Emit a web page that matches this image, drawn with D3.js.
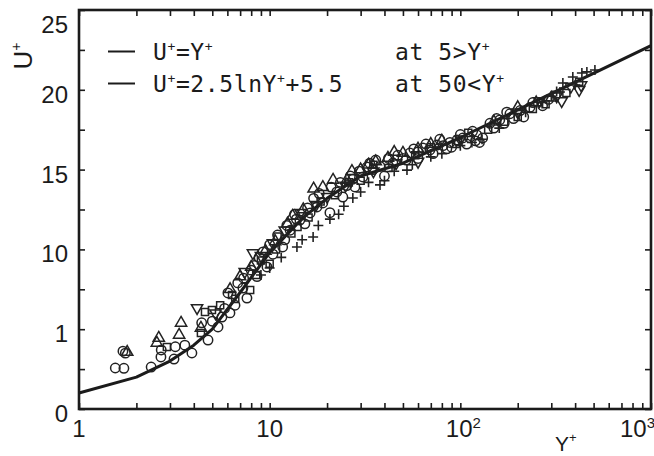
<!DOCTYPE html>
<html>
<head>
<meta charset="utf-8">
<script src="https://cdn.jsdelivr.net/npm/d3@7"></script>
<style>
  html, body { margin: 0; padding: 0; background: #fff; }
  svg { display: block; }
</style>
</head>
<body>
<svg id="chart" width="654" height="456"></svg>
<script>
// ---------------- data ----------------
const xTickValues = [1, 10, 100, 1000];
const xTickBase = ["1", "10", "10", "10"];
const xTickExp = ["", "", "2", "3"];
const yTickValues = [0, 5, 10, 15, 20, 25];
const yTickLabels = ["0", "1", "10", "15", "20", "25"];

// wall-law curve (U+ = Y+ for small Y+, log law for large Y+)
const lawY = [1, 2, 3, 4, 5, 7, 10, 15, 20, 30, 50, 100, 1000];
const lawU = [1, 2, 3, 4, 5, 7.3, 9.8, 12.0, 13.2, 14.6, 15.4, 17.01, 22.77];

const legendFormulas = ["U⁺=Y⁺", "U⁺=2.5lnY⁺+5.5"];
const legendConditions = ["at 5>Y⁺", "at 50<Y⁺"];

// measured points [Y+, U+]
const circlePts = [
  [1.55,2.57],[1.72,2.55],[1.75,3.5],[1.7,3.62],[2.39,2.63],[3.15,3.13],[3.91,3.51],[4.75,4.32],[2.69,3.26],[3.59,4.0],
  [5.62,5.76],[6.19,6.02],[5.36,5.14],[6.04,7.27],[6.58,6.5],[7.6,6.95],[7.24,7.58],[8.58,8.3],
  [9.22,9.84],[9.68,8.9],[11.7,10.15],[12.0,10.6],[10.4,9.7],[12.8,11.2],[14.4,11.84],[16.3,12.28],
  [17.7,12.66],[15.3,11.6],[19.0,12.91],[22.5,13.6],[24.2,13.28],[25.4,14.0],[28.0,13.91],[30.8,14.54],
  [32.4,15.16],[34.8,15.0],[37.9,15.2],[44.3,15.41],[50.0,15.7],[54.4,16.04],[59.9,16.1],[63.7,16.35],
  [69.3,16.23],[75.4,16.54],[81.1,16.5],[88.2,16.7],[96.0,16.85],[103,16.98],[112,17.0],[122,17.17],
  [131,16.98],[143,17.9],[161,18.11],[182,18.5],[206,18.7],[232,18.9],[40,14.6],[20.7,12.3],
  [27.3,14.4],[60,15.7],[90,16.4],[120,16.8],[3.2,3.9],[2.7,3.7],[4.4,5.4],[8.0,8.7],[13.5,12.2],
  [5.0,5.5],[5.8,6.3],[6.8,7.9],[7.3,8.2],[8.3,9.0],[8.8,9.5],[10.0,10.3],[11.0,10.9],[12.3,11.5],
  [13.8,11.9],[15.8,12.6],[17.0,13.2],[18.2,13.5],[21.0,13.9],[23.5,14.2],[26.5,14.6],[29.5,14.9],
  [33.5,15.4],[36,15.6],[42,15.7],[47,15.9],[52,15.6],[57,16.3],[66,16.6],[72,16.0],[78,16.9],
  [85,16.3],[100,17.2],[108,16.6],[116,17.4],[126,16.7],[150,17.6],[170,17.9],[190,18.2],[215,18.3],
  [240,19.2],[270,19.0],[290,19.4],[175,18.6],[155,18.2]
];
const triUpPts = [
  [1.79,3.57],[2.56,4.14],[2.62,4.45],[3.43,5.39],[3.35,4.64],[4.36,5.08],[6.2,7.5],[8.0,8.9],
  [10.7,10.5],[12.4,11.6],[15.0,12.5],[17.0,13.8],[21.5,14.35],[25.4,14.35],[30.0,15.0],[41.7,15.73],
  [50.0,16.04],[36.0,15.5],[60,16.3],[80,16.8],[150,18.0],[250,19.2],[300,19.5],
  [7.0,8.3],[9.5,9.9],[13.2,12.1],[19,13.9],[27,14.9],[33,15.3],[45,16.1],[70,16.6],[200,18.9]
];
const triDownPts = [
  [4.16,6.33],[8.17,9.77],[10.4,10.4],[20.0,13.3],[14.5,12.3],[7.4,8.6],[5.2,6.0],[46,15.4],
  [320,19.6],[380,20.2],[420,20.0],[260,19.3],
  [9.0,9.6],[12.0,11.2],[17.5,12.8],[25,14.0],[35,14.9],[60,15.5],[100,16.9],[200,18.6],[340,19.3],[430,20.3]
];
const squarePts = [
  [2.89,3.88],[4.58,6.08],[4.98,6.2],[4.36,4.76],[6.35,7.14],[7.9,7.46],[9.0,9.3],[11,10.8],
  [13,11.0],[18.5,13.0],[26,14.2],[35,15.3],[58,15.9],[95,16.6],[140,17.5],[200,18.3],[280,19.1],
  [360,19.8],[10.8,10.0],[6.6,6.9],
  [5.5,6.5],[8.5,8.4],[10.0,9.1],[14.0,11.4],[16.0,12.0],[22,13.4],[30,14.3],[42,15.1],[70,16.4],
  [110,17.3],[170,18.0],[240,18.8],[420,20.5]
];
const plusPts = [
  [13.9,10.15],[16.9,10.78],[20.7,11.9],[27.3,13.22],[37.9,14.04],[52.5,14.97],[10.0,8.83],[23,12.2],
  [33,14.2],[45,14.9],[70,15.8],[100,16.5],[130,16.9],[345,20.43],[389,20.8],[434,21.05],[461,21.12],
  [508,21.24],[333,19.86],[300,19.6],[9,8.4],[18,11.5],
  [11.5,9.5],[14.8,10.6],[24.5,12.7],[30,13.6],[40,14.3],[56,15.3],[80,16.0],[115,16.7],[160,17.6],
  [220,18.6],[270,19.2],[400,20.3],[320,19.9]
];

// ---------------- drawing ----------------
(function () {
const svg = d3.select("#chart");
const ink = "#1b1b1b";
const pL = 79, pR = 651, pT = 10, pB = 409;

const x = d3.scaleLog().domain([1, 1000]).range([pL, pR]);
const y = d3.scaleLinear().domain([0, 25]).range([pB, pT]);

svg.append("rect").attr("width", 654).attr("height", 456).attr("fill", "#fff");

const xTicksAll = x.ticks();
const yTicksAll = d3.range(0, 25.01, 2.5);
const tickLen = 6;

function styleAxis(g) {
  g.select(".domain").remove();
  g.selectAll(".tick line").attr("stroke", ink).attr("stroke-width", 1.6);
  g.selectAll(".tick text").remove();
}
svg.append("g").attr("transform", `translate(0,${pB})`)
  .call(d3.axisBottom(x).tickValues(xTicksAll).tickSize(-tickLen)).call(styleAxis);
svg.append("g").attr("transform", `translate(0,${pT})`)
  .call(d3.axisTop(x).tickValues(xTicksAll).tickSize(-tickLen)).call(styleAxis);
svg.append("g").attr("transform", `translate(${pL},0)`)
  .call(d3.axisLeft(y).tickValues(yTicksAll).tickSize(-tickLen)).call(styleAxis);
svg.append("g").attr("transform", `translate(${pR},0)`)
  .call(d3.axisRight(y).tickValues(yTicksAll).tickSize(-tickLen)).call(styleAxis);

svg.append("rect")
  .attr("x", pL).attr("y", pT)
  .attr("width", pR - pL).attr("height", pB - pT)
  .attr("fill", "none").attr("stroke", ink).attr("stroke-width", 2.6);

const labelFont = "'Liberation Sans', Arial, Helvetica, sans-serif";
svg.append("g").selectAll("text").data(yTickValues).join("text")
  .attr("x", 68)
  .attr("y", d => d === 25 ? 33 : y(d) + 13)
  .attr("text-anchor", "end")
  .attr("font-family", labelFont).attr("font-size", 24).attr("fill", ink)
  .text((d, i) => yTickLabels[i]);

const xl = svg.append("g");
xTickValues.forEach((v, i) => {
  const t = xl.append("text")
    .attr("y", 437)
    .attr("font-family", labelFont).attr("font-size", 24).attr("fill", ink);
  if (i === xTickValues.length - 1) {
    t.attr("x", 655).attr("text-anchor", "end");
  } else {
    t.attr("x", x(v) + (xTickExp[i] ? 3 : 0)).attr("text-anchor", "middle");
  }
  t.append("tspan").text(xTickBase[i]);
  if (xTickExp[i]) {
    t.append("tspan").attr("font-size", 15).attr("dy", -9).text(xTickExp[i]);
  }
});

const xt = svg.append("text").attr("x", 555).attr("y", 451)
  .attr("font-family", labelFont).attr("font-size", 21).attr("fill", ink);
xt.append("tspan").text("Y");
xt.append("tspan").attr("font-size", 13).attr("dy", -9).text("+");

const yt = svg.append("text").attr("transform", "translate(32,56) rotate(-90)")
  .attr("text-anchor", "middle")
  .attr("font-family", labelFont).attr("font-size", 26).attr("fill", ink);
yt.append("tspan").text("U");
yt.append("tspan").attr("font-size", 14).attr("dy", -11).text("+");

const lawPts = lawY.map((v, i) => [v, lawU[i]]);
svg.append("path")
  .datum(lawPts)
  .attr("fill", "none").attr("stroke", ink).attr("stroke-width", 3)
  .attr("stroke-linejoin", "round")
  .attr("d", d3.line().x(d => x(d[0])).y(d => y(d[1])));

const mk = svg.append("g").attr("fill", "none").attr("stroke", "#222").attr("stroke-width", 1.5);
mk.selectAll("circle").data(circlePts).join("circle")
  .attr("cx", d => x(d[0])).attr("cy", d => y(d[1])).attr("r", 4.7);
mk.selectAll("path.tu").data(triUpPts).join("path").attr("class", "tu")
  .attr("transform", d => `translate(${x(d[0])},${y(d[1])})`)
  .attr("d", d3.symbol(d3.symbolTriangle, 55));
mk.selectAll("path.td").data(triDownPts).join("path").attr("class", "td")
  .attr("transform", d => `translate(${x(d[0])},${y(d[1])}) rotate(180)`)
  .attr("d", d3.symbol(d3.symbolTriangle, 55));
mk.selectAll("path.sq").data(squarePts).join("path").attr("class", "sq")
  .attr("transform", d => `translate(${x(d[0])},${y(d[1])})`)
  .attr("d", d3.symbol(d3.symbolSquare, 50));
mk.selectAll("path.pl").data(plusPts).join("path").attr("class", "pl")
  .attr("transform", d => `translate(${x(d[0])},${y(d[1])})`)
  .attr("stroke-width", 1.6)
  .attr("d", "M-5,0H5M0,-5V5");

const monoFont = "'DejaVu Sans Mono', 'Liberation Mono', monospace";
function supText(sel, str) {
  // ⁺ rendered as raised small "+"; the following run drops back to baseline
  const parts = str.split("⁺");
  let pendingDy = 0;
  parts.forEach((p, i) => {
    if (p) {
      const s = sel.append("tspan").text(p);
      if (pendingDy) s.attr("dy", pendingDy);
      pendingDy = 0;
    }
    if (i < parts.length - 1) {
      sel.append("tspan").attr("font-size", 13).attr("dy", -9 + pendingDy).text("+");
      pendingDy = 9;
    }
  });
}
const legRowY = [60, 92];
legendFormulas.forEach((f, i) => {
  svg.append("line")
    .attr("x1", 108).attr("x2", 135)
    .attr("y1", legRowY[i] - 8.5).attr("y2", legRowY[i] - 8.5)
    .attr("stroke", ink).attr("stroke-width", 2);
  const t = svg.append("text").attr("x", 153).attr("y", legRowY[i])
    .attr("font-family", monoFont).attr("font-size", 23).attr("fill", ink)
    .attr("letter-spacing", 0.6);
  supText(t, f);
  const c = svg.append("text").attr("x", 395).attr("y", legRowY[i])
    .attr("font-family", monoFont).attr("font-size", 23).attr("fill", ink)
    .attr("letter-spacing", 0.6);
  supText(c, legendConditions[i]);
});
})();
</script>
</body>
</html>
